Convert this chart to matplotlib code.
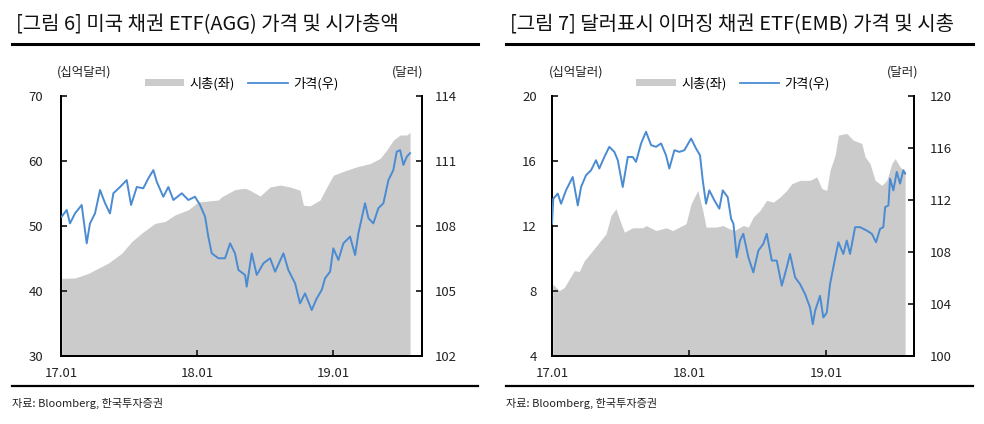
import matplotlib
matplotlib.use("Agg")
import matplotlib.pyplot as plt
from matplotlib.lines import Line2D
from matplotlib.patches import Patch

plt.rcParams['font.family'] = ['Noto Sans CJK KR', 'DejaVu Sans']

# ---- [그림 6] AGG ----
agg_cap_t = [2017.005, 2017.103, 2017.201, 2017.274, 2017.348, 2017.446, 2017.520, 2017.593,
             2017.691, 2017.765, 2017.838, 2017.936, 2018.010, 2018.157, 2018.182, 2018.279,
             2018.353, 2018.390, 2018.463, 2018.537, 2018.610, 2018.684, 2018.757, 2018.782,
             2018.831, 2018.904, 2018.954, 2019.002, 2019.076, 2019.174, 2019.272, 2019.346,
             2019.395, 2019.443, 2019.493, 2019.542, 2019.566]
agg_cap = [41.95, 42.0, 42.7, 43.5, 44.3, 45.8, 47.6, 48.9,
           50.4, 50.7, 51.7, 52.5, 53.7, 54.0, 54.5, 55.6,
           55.8, 55.5, 54.6, 56.0, 56.3, 56.0, 55.5, 53.2,
           53.1, 54.0, 56.0, 57.8, 58.4, 59.1, 59.6, 60.4,
           61.7, 63.2, 64.0, 64.0, 64.4]

agg_px_t = [2017.005, 2017.042, 2017.066, 2017.103, 2017.152, 2017.189, 2017.213, 2017.250,
            2017.287, 2017.324, 2017.360, 2017.385, 2017.434, 2017.483, 2017.515, 2017.557,
            2017.605, 2017.642, 2017.679, 2017.704, 2017.752, 2017.789, 2017.826, 2017.888,
            2017.936, 2017.985, 2018.022, 2018.059, 2018.083, 2018.108, 2018.157, 2018.206,
            2018.243, 2018.279, 2018.304, 2018.353, 2018.365, 2018.402, 2018.439, 2018.488,
            2018.537, 2018.574, 2018.635, 2018.671, 2018.721, 2018.757, 2018.794, 2018.843,
            2018.880, 2018.917, 2018.941, 2018.978, 2019.002, 2019.039, 2019.076, 2019.125,
            2019.162, 2019.186, 2019.235, 2019.260, 2019.296, 2019.333, 2019.370, 2019.407,
            2019.443, 2019.468, 2019.493, 2019.517, 2019.542, 2019.566]
agg_px = [108.43, 108.74, 108.12, 108.58, 108.97, 107.20, 108.12, 108.58,
          109.66, 109.05, 108.58, 109.51, 109.80, 110.12, 108.97, 109.80,
          109.74, 110.20, 110.58, 110.04, 109.35, 109.80, 109.20, 109.51,
          109.20, 109.35, 108.97, 108.43, 107.50, 106.74, 106.51, 106.51,
          107.20, 106.74, 105.97, 105.74, 105.20, 106.74, 105.74, 106.28,
          106.51, 105.89, 106.74, 105.97, 105.35, 104.43, 104.89, 104.12,
          104.66, 105.05, 105.59, 105.89, 106.97, 106.43, 107.20, 107.51,
          106.66, 107.66, 109.05, 108.36, 108.12, 108.82, 109.05, 110.12,
          110.58, 111.43, 111.50, 110.82, 111.20, 111.36]

# ---- [그림 7] EMB ----
emb_cap_t = [2017.005, 2017.053, 2017.090, 2017.126, 2017.163, 2017.199, 2017.236, 2017.297,
             2017.345, 2017.394, 2017.431, 2017.467, 2017.504, 2017.528, 2017.589, 2017.662,
             2017.686, 2017.759, 2017.832, 2017.881, 2017.929, 2017.978, 2018.015, 2018.064,
             2018.100, 2018.124, 2018.197, 2018.246, 2018.294, 2018.331, 2018.396, 2018.433,
             2018.469, 2018.518, 2018.567, 2018.615, 2018.664, 2018.713, 2018.750, 2018.810,
             2018.883, 2018.932, 2018.969, 2019.005, 2019.029, 2019.066, 2019.090, 2019.151,
             2019.199, 2019.261, 2019.285, 2019.321, 2019.358, 2019.407, 2019.443, 2019.480,
             2019.504, 2019.540, 2019.577]
emb_cap = [8.43, 8.02, 8.22, 8.74, 9.25, 9.20, 9.87, 10.49,
           11.00, 11.52, 12.65, 13.06, 12.14, 11.62, 11.89, 11.89,
           12.03, 11.72, 11.89, 11.72, 11.93, 12.14, 13.37, 14.19,
           12.96, 11.93, 11.93, 12.03, 11.83, 11.72, 12.03, 11.93,
           12.55, 12.96, 13.58, 13.47, 13.78, 14.19, 14.60, 14.81,
           14.81, 15.02, 14.30, 14.19, 15.43, 16.36, 17.59, 17.70,
           17.28, 17.08, 16.25, 15.84, 14.81, 14.50, 14.81, 15.84,
           16.15, 15.64, 15.33]

emb_px_t = [2017.000, 2017.009, 2017.042, 2017.066, 2017.102, 2017.151, 2017.188, 2017.212,
            2017.248, 2017.285, 2017.321, 2017.345, 2017.382, 2017.418, 2017.455, 2017.480,
            2017.516, 2017.553, 2017.589, 2017.613, 2017.650, 2017.686, 2017.723, 2017.759,
            2017.796, 2017.832, 2017.856, 2017.893, 2017.929, 2017.966, 2018.015, 2018.051,
            2018.080, 2018.100, 2018.124, 2018.148, 2018.185, 2018.221, 2018.246, 2018.282,
            2018.307, 2018.324, 2018.348, 2018.372, 2018.396, 2018.433, 2018.469, 2018.506,
            2018.542, 2018.567, 2018.604, 2018.640, 2018.677, 2018.713, 2018.737, 2018.774,
            2018.810, 2018.847, 2018.883, 2018.903, 2018.920, 2018.956, 2018.980, 2019.005,
            2019.029, 2019.053, 2019.090, 2019.126, 2019.151, 2019.175, 2019.212, 2019.248,
            2019.297, 2019.334, 2019.365, 2019.394, 2019.418, 2019.431, 2019.455, 2019.467,
            2019.491, 2019.516, 2019.540, 2019.564, 2019.577]
emb_px = [110.17, 112.10, 112.49, 111.71, 112.74, 113.77, 111.58, 113.00,
          113.90, 114.29, 115.06, 114.42, 115.31, 116.09, 115.70, 115.06,
          113.00, 115.31, 115.31, 114.93, 116.35, 117.25, 116.22, 116.09,
          116.35, 115.44, 114.42, 115.83, 115.70, 115.83, 116.73, 115.96,
          115.44, 113.51, 111.71, 112.74, 111.97, 111.33, 112.74, 112.22,
          110.56, 110.17, 107.59, 108.88, 109.40, 107.59, 106.43, 108.11,
          108.63, 109.40, 107.34, 107.34, 105.41, 106.82, 107.85, 106.05,
          105.53, 104.76, 103.73, 102.44, 103.47, 104.63, 102.96, 103.34,
          105.53, 106.82, 108.75, 107.85, 108.88, 107.85, 109.91, 109.91,
          109.65, 109.40, 108.75, 109.78, 109.91, 111.45, 111.58, 113.64,
          112.74, 114.16, 113.26, 114.29, 114.03]

year_ticks = [2017, 2018, 2019]
year_labels = ['17.01', '18.01', '19.01']

GRAY = '#cbcbcb'
BLUE = '#4a8bd2'

fig = plt.figure(figsize=(9.84, 4.24), dpi=100)


def panel(rect, cap_t, cap, px_t, px, cap_lim, cap_ticks, px_lim, px_ticks, xmax, lpad, rpad):
    ax = fig.add_axes(rect)
    ax.fill_between(cap_t, cap, cap_lim[0], color=GRAY, lw=0, zorder=1)
    ax.set_xlim(2017, xmax)
    ax.set_ylim(*cap_lim)
    ax.set_yticks(cap_ticks)
    ax.set_xticks(year_ticks)
    ax.set_xticklabels(year_labels)
    ax2 = ax.twinx()
    ax2.plot(px_t, px, color=BLUE, lw=1.4, zorder=3)
    ax2.set_ylim(*px_lim)
    ax2.set_yticks(px_ticks)
    for a in (ax, ax2):
        a.spines['top'].set_visible(False)
        for s in ('left', 'right', 'bottom'):
            a.spines[s].set_linewidth(1.4)
        a.tick_params(direction='in', length=4, width=1.3, labelsize=9.5,
                      colors='#222222')
    ax.tick_params(axis='y', pad=lpad)
    ax2.tick_params(axis='y', pad=rpad)
    ax.tick_params(axis='x', pad=8)
    ax2.tick_params(axis='x', length=0)
    handles = [Patch(facecolor=GRAY, edgecolor='none'), Line2D([], [], color=BLUE, lw=1.3)]
    ax.legend(handles, ['시총(좌)', '가격(우)'], ncol=2, loc='center',
              bbox_to_anchor=(0.5, 1.048), frameon=False, fontsize=9.5,
              handlelength=3.0, handleheight=0.45, columnspacing=1.0, handletextpad=0.4)
    return ax


ax_l = panel([0.062, 0.1604, 0.3669, 0.6132], agg_cap_t, agg_cap, agg_px_t, agg_px,
             (30, 70), [30, 40, 50, 60, 70], (102, 114), [102, 105, 108, 111, 114], 2019.654,
             13, 9.5)
ax_r = panel([0.561, 0.1604, 0.3679, 0.6132], emb_cap_t, emb_cap, emb_px_t, emb_px,
             (4, 20), [4, 8, 12, 16, 20], (100, 120), [100, 104, 108, 112, 116, 120], 2019.642,
             11, 11)

W, H = 984, 424


def fx(px_x):
    return px_x / W


def fy(px_y):
    return 1 - px_y / H


# titles, rules, unit labels, source
fig.text(fx(16), fy(25), '[그림 6] 미국 채권 ETF(AGG) 가격 및 시가총액', fontsize=14.4,
         va='center', ha='left', color='#111111')
fig.text(fx(510), fy(25), '[그림 7] 달러표시 이머징 채권 ETF(EMB) 가격 및 시총', fontsize=14.4,
         va='center', ha='left', color='#111111')
for x0, x1 in [(12, 478), (506, 973)]:
    fig.add_artist(Line2D([fx(x0), fx(x1)], [fy(44), fy(44)], color='black', lw=2.2))
    fig.add_artist(Line2D([fx(x0), fx(x1)], [fy(386), fy(386)], color='black', lw=1.6))
fig.text(fx(12), fy(403), '자료: Bloomberg, 한국투자증권', fontsize=8, va='center', color='#222222')
fig.text(fx(506), fy(403), '자료: Bloomberg, 한국투자증권', fontsize=8, va='center', color='#222222')

fig.text(fx(57), fy(72), '(십억달러)', fontsize=9, va='center', ha='left', color='#222222')
fig.text(fx(423), fy(72), '(달러)', fontsize=9, va='center', ha='right', color='#222222')
fig.text(fx(549), fy(72), '(십억달러)', fontsize=9, va='center', ha='left', color='#222222')
fig.text(fx(918), fy(72), '(달러)', fontsize=9, va='center', ha='right', color='#222222')

fig.savefig('out.png', dpi=100)
